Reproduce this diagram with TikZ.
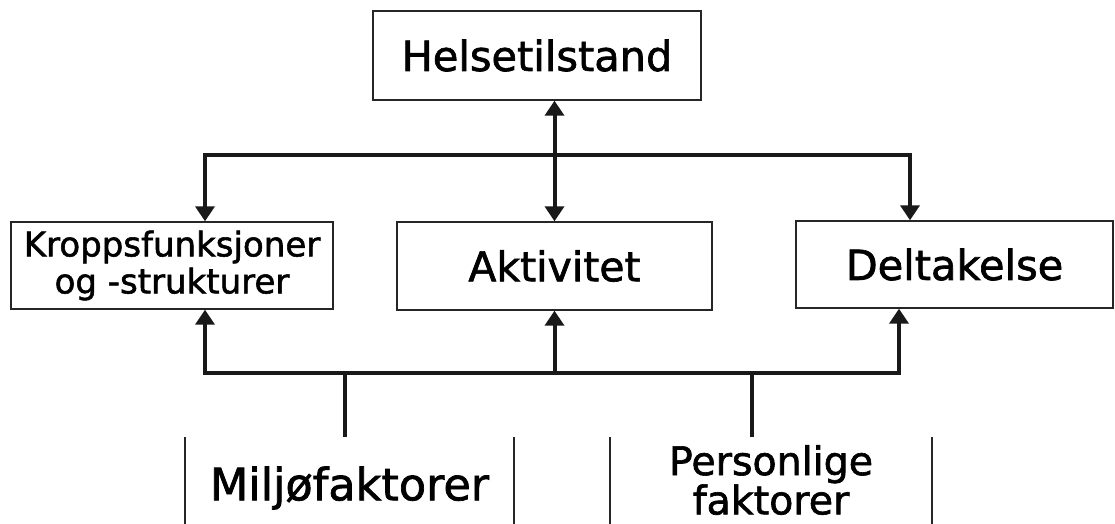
\documentclass[tikz,border=0pt]{standalone}
\usepackage{fontspec}
\setmainfont[FakeBold=1.6]{DejaVu Sans}
\usetikzlibrary{arrows.meta}
\begin{document}
\begin{tikzpicture}[x=1pt,y=-1pt,
  box/.style={draw=black!85, line width=1.4pt, inner sep=0pt, align=center},
  conn/.style={line width=4pt, draw=black!90, line join=miter},
  tip/.tip={Triangle[width=19pt,length=15pt]},
  side/.style={draw=black!85, line width=1.4pt},
  lbl/.style={inner sep=0pt, align=center}]
\useasboundingbox (0,0) rectangle (1115,524);
% boxes
\node[box, minimum width=328pt, minimum height=89pt, font=\fontsize{41.5}{46}\selectfont] (helse) at (537,55.5) {Helsetilstand};
\node[box, minimum width=322pt, minimum height=87pt, font=\fontsize{34}{37}\selectfont] (kropp) at (172,265.5) {Kroppsfunksjoner\\og -strukturer};
\node[box, minimum width=315pt, minimum height=88pt, font=\fontsize{41}{44}\selectfont] (akt) at (554.5,266) {Aktivitet};
\node[box, minimum width=317pt, minimum height=87pt, font=\fontsize{41.5}{44}\selectfont] (delt) at (954.5,264.5) {Deltakelse};
% bottom (cropped) boxes
\node[lbl, font=\fontsize{44.5}{46}\selectfont] (milj) at (349.5,488) {Miljøfaktorer};
\node[lbl, font=\fontsize{39.5}{37}\selectfont] (pers) at (771,480) {Personlige\\faktorer};
\coordinate (mL1) at (185,437); \coordinate (mL2) at (185,524);
\coordinate (mR1) at (514,437); \coordinate (mR2) at (514,524);
\coordinate (pL1) at (610,437); \coordinate (pL2) at (610,524);
\coordinate (pR1) at (932,437); \coordinate (pR2) at (932,524);
\draw[side] (mL1) -- (mL2);
\draw[side] (mR1) -- (mR2);
\draw[side] (pL1) -- (pL2);
\draw[side] (pR1) -- (pR2);
% connector coordinates
\coordinate (tl) at (205,155);
\coordinate (tr) at (910,155);
\coordinate (bl) at (205,373);
\coordinate (br) at (899,373);
\coordinate (mtop) at (345,437);
\coordinate (ptop) at (752,437);
% top connectors
\draw[conn,tip-tip] (kropp.north -| tl) -- (tl) -- (tr) -- (delt.north -| tr);
\draw[conn,tip-tip] (helse.south -| akt.north) -- (akt.north);
% bottom connectors
\draw[conn,tip-tip] (kropp.south -| bl) -- (bl) -- (br) -- (delt.south -| br);
\draw[conn,-tip] (bl -| akt.south) -- (akt.south);
\draw[conn] (mtop) -- (mtop |- bl);
\draw[conn] (ptop) -- (ptop |- bl);
\end{tikzpicture}
\end{document}
